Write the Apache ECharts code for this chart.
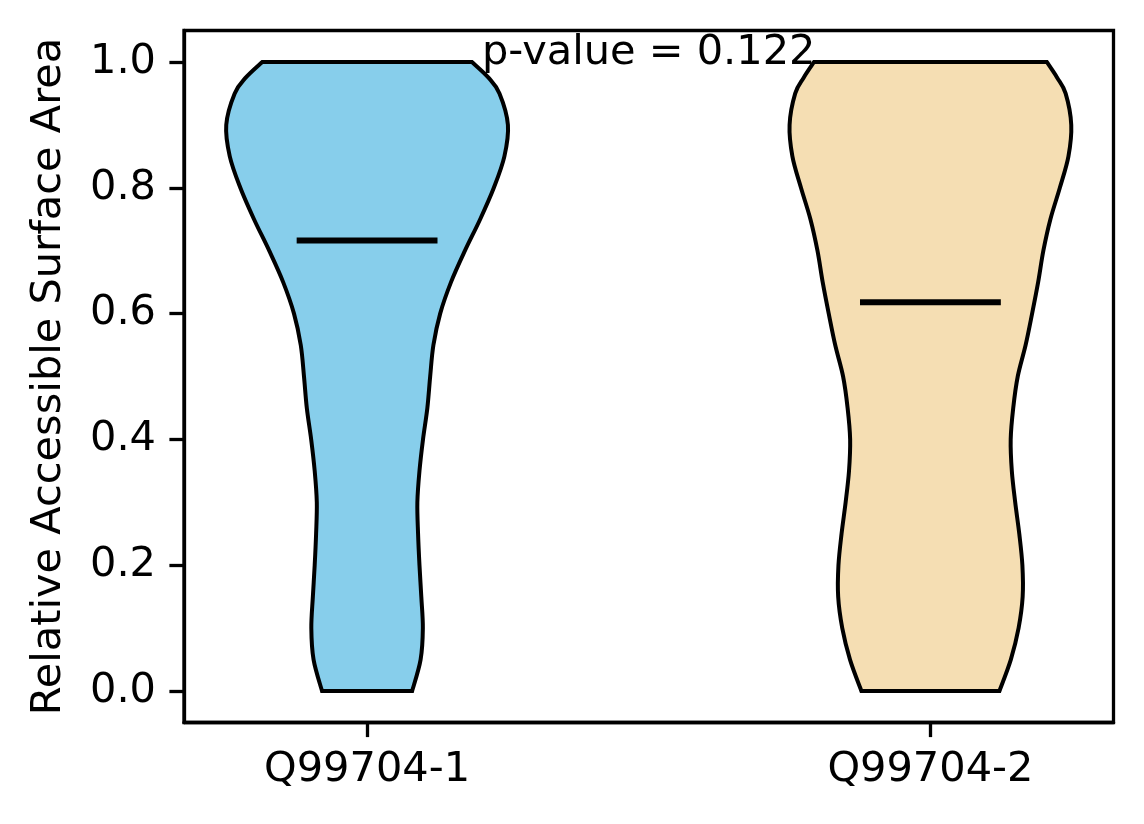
<!DOCTYPE html>
<html>
<head>
<meta charset="utf-8">
<script src="https://cdn.jsdelivr.net/npm/echarts@6/dist/echarts.min.js"></script>
<style>
html, body { margin: 0; padding: 0; background: #fff; }
#chart { width: 1144px; height: 824px; }
</style>
</head>
<body>
<div id="chart"></div>
<script>
// ---------- data ----------
const categories = ['Q99704-1', 'Q99704-2'];
const positions = [1, 2];
const yTicks = [0, 0.2, 0.4, 0.6, 0.8, 1.0];
// value levels at which the violin outlines were read
const levels = [0, 0.05, 0.10, 0.15, 0.20, 0.25, 0.30, 0.35, 0.40, 0.45, 0.50,
                0.55, 0.60, 0.65, 0.70, 0.75, 0.80, 0.85, 0.90, 0.95, 0.975, 1.0];
// relative density (1 = widest point of each violin)
const densityQ1 = [0.32, 0.38, 0.396, 0.385, 0.372, 0.362, 0.357, 0.372, 0.397, 0.428, 0.448,
                   0.471, 0.519, 0.596, 0.695, 0.803, 0.90, 0.975, 1.0, 0.94, 0.862, 0.744];
const densityQ2 = [0.49, 0.571, 0.626, 0.655, 0.653, 0.631, 0.602, 0.578, 0.57, 0.588, 0.62,
                   0.676, 0.722, 0.765, 0.802, 0.852, 0.919, 0.98, 1.0, 0.96, 0.90, 0.826];
const medians = [0.716, 0.618];
const pValueText = 'p-value = 0.122';
const yAxisTitle = 'Relative Accessible Surface Area';

// ---------- styling ----------
const densities = [densityQ1, densityQ2];
const fills = ['#87CEEB', '#F5DEB3'];
const halfWidth = 0.25;      // violin width 0.5 in x units
const FONT = 'DejaVu Sans';
const FS = 41.5;

function catmull(pts) {
  let d = '';
  const n = pts.length;
  for (let i = 0; i < n - 1; i++) {
    const p0 = pts[Math.max(i - 1, 0)];
    const p1 = pts[i];
    const p2 = pts[i + 1];
    const p3 = pts[Math.min(i + 2, n - 1)];
    const c1x = p1[0] + (p2[0] - p0[0]) / 6, c1y = p1[1] + (p2[1] - p0[1]) / 6;
    const c2x = p2[0] - (p3[0] - p1[0]) / 6, c2y = p2[1] - (p3[1] - p1[1]) / 6;
    d += ' C' + c1x + ' ' + c1y + ' ' + c2x + ' ' + c2y + ' ' + p2[0] + ' ' + p2[1];
  }
  return d;
}

const chart = echarts.init(document.getElementById('chart'), null, { renderer: 'canvas' });

const option = {
  animation: false,
  backgroundColor: '#ffffff',
  textStyle: { fontFamily: FONT },
  grid: {
    left: 184, right: 30.5, top: 30.5, bottom: 101.5,
    show: true, borderColor: '#000', borderWidth: 3.3, backgroundColor: 'transparent'
  },
  xAxis: {
    type: 'value', min: 0.675, max: 2.325,
    splitLine: { show: false },
    axisLine: { show: true, onZero: false, lineStyle: { color: '#000', width: 3.3 } },
    axisTick: { show: true, length: 14.6, customValues: positions, lineStyle: { color: '#000', width: 3.3 } },
    axisLabel: {
      customValues: positions,
      formatter: function (v) { const i = positions.indexOf(v); return i >= 0 ? categories[i] : ''; },
      fontSize: FS, fontFamily: FONT, color: '#000', margin: 27
    }
  },
  yAxis: {
    type: 'value', min: -0.05, max: 1.05,
    splitLine: { show: false },
    axisLine: { show: true, onZero: false, lineStyle: { color: '#000', width: 3.3 } },
    axisTick: { show: true, length: 14.6, customValues: yTicks, lineStyle: { color: '#000', width: 3.3 } },
    axisLabel: {
      customValues: yTicks,
      formatter: function (v) { return v.toFixed(1); },
      fontSize: FS, fontFamily: FONT, color: '#000', margin: 28
    },
    name: yAxisTitle, nameLocation: 'middle', nameGap: 114, nameRotate: 90,
    nameTextStyle: { fontSize: FS, fontFamily: FONT, color: '#000' }
  },
  series: [
    {
      type: 'custom',
      data: positions.map(function (p, i) { return [p, i]; }),
      renderItem: function (params, api) {
        const i = params.dataIndex;
        const pos = api.value(0);
        const dens = densities[i];
        const left = levels.map(function (v, k) { return api.coord([pos - halfWidth * dens[k], v]); });
        const right = levels.map(function (v, k) { return api.coord([pos + halfWidth * dens[k], v]); }).reverse();
        let d = 'M' + left[0][0] + ' ' + left[0][1];
        d += catmull(left);
        d += ' L' + right[0][0] + ' ' + right[0][1];
        d += catmull(right);
        d += ' Z';
        const m1 = api.coord([pos - halfWidth / 2, medians[i]]);
        const m2 = api.coord([pos + halfWidth / 2, medians[i]]);
        return {
          type: 'group',
          children: [
            { type: 'path', shape: { pathData: d },
              style: { fill: fills[i], stroke: '#000', lineWidth: 4, lineJoin: 'miter' } },
            { type: 'line', shape: { x1: m1[0], y1: m1[1], x2: m2[0], y2: m2[1] },
              style: { stroke: '#000', lineWidth: 6, lineCap: 'butt' } }
          ]
        };
      }
    },
    {
      type: 'custom',
      data: [[1.5, 1.0]],
      z: 10,
      renderItem: function (params, api) {
        const p = api.coord([api.value(0), api.value(1)]);
        return {
          type: 'text', x: p[0], y: p[1] - 9,
          style: { text: pValueText, fontSize: FS, fontFamily: FONT, fill: '#000',
                   align: 'center', verticalAlign: 'middle' }
        };
      }
    }
  ]
};
chart.setOption(option);
</script>
</body>
</html>
